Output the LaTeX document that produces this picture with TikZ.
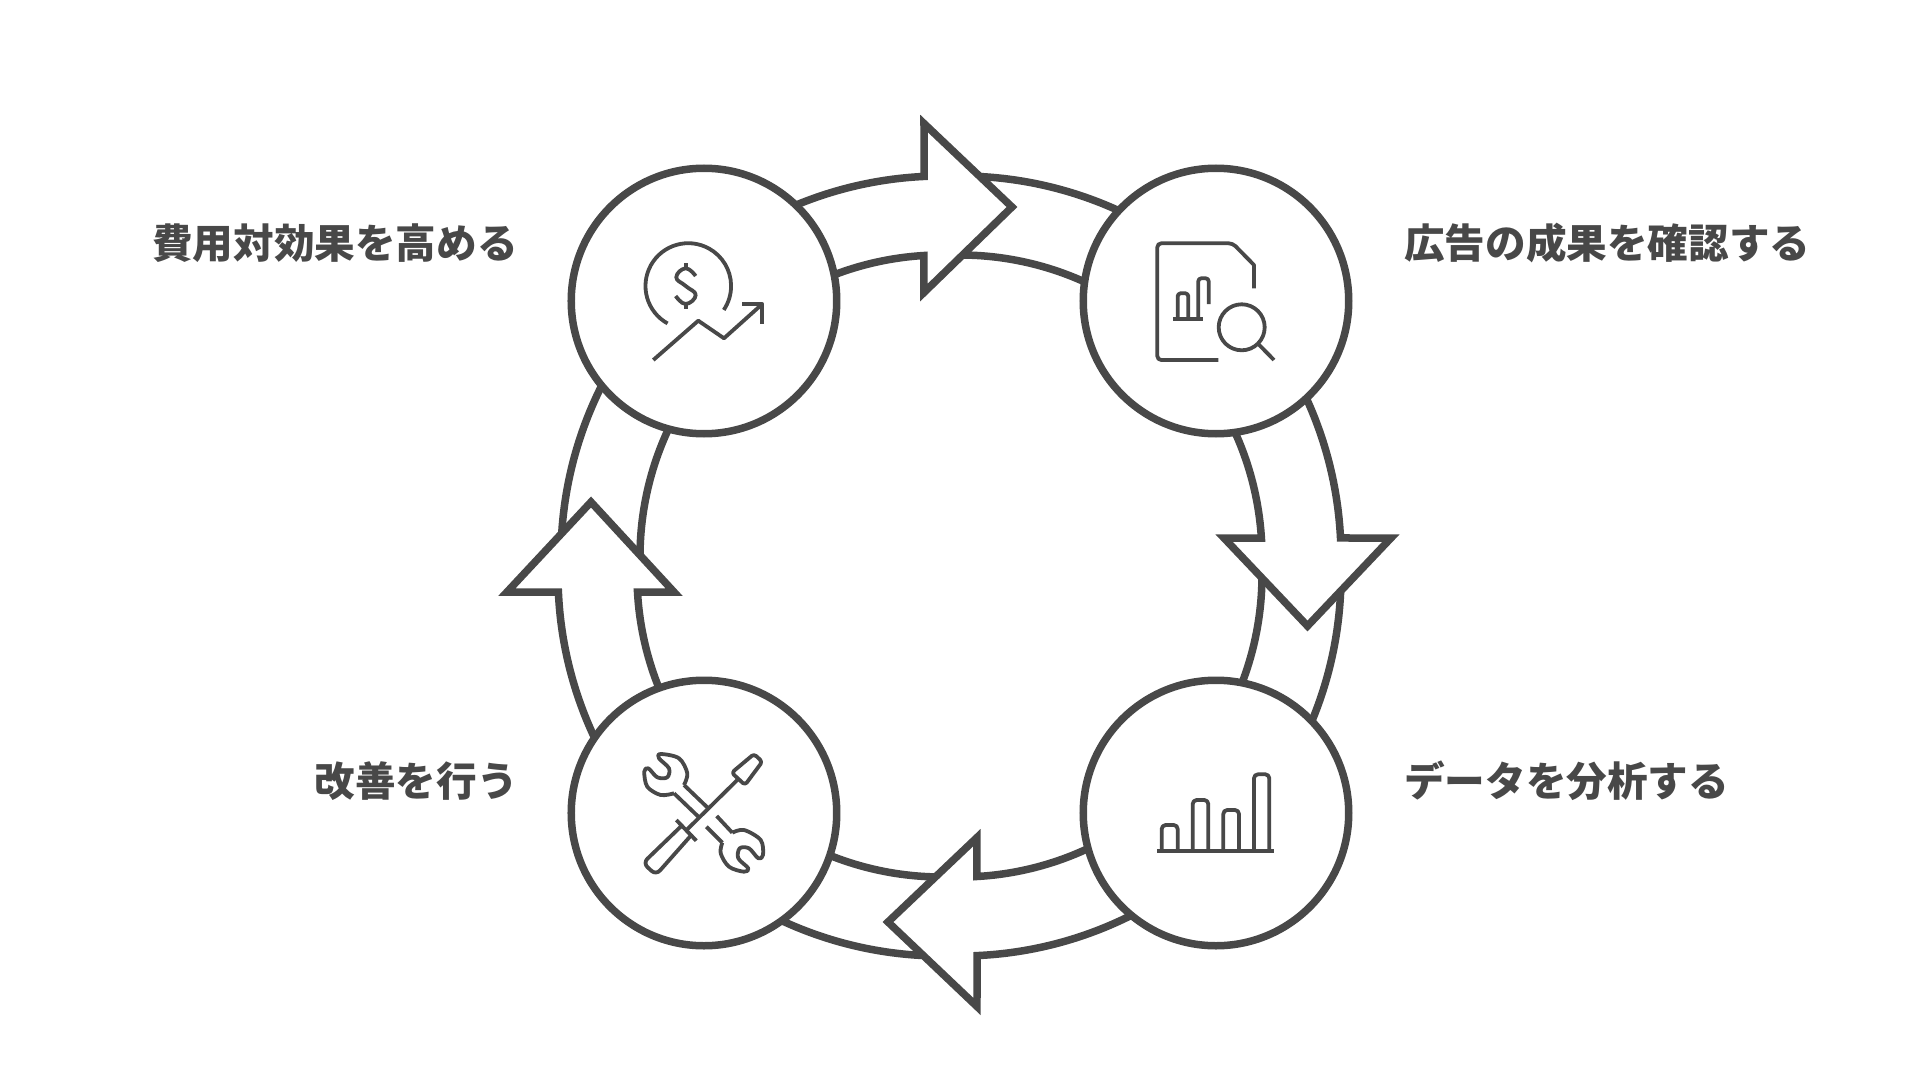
\documentclass[tikz,border=0pt]{standalone}
\usepackage{fontspec}
\usepackage{tikz}
\usetikzlibrary{positioning}
\newfontfamily\jpfont{Noto Sans CJK JP}
\definecolor{ink}{HTML}{484848}
\tikzset{
    ring/.style = {draw=ink, line width=7.5pt, fill=white},
    band/.style = {draw=ink, line width=7.5pt},
    main/.style = {draw=ink, circle, line width=7.5pt, fill=white, minimum size=265.5pt, inner sep=0pt},
    steplabel/.style = {text=ink, inner sep=0pt, font=\jpfont\bfseries\fontsize{40.6}{48}\selectfont},
    icon/.style = {draw=ink, line width=3.8pt, line join=round}
}
\begin{document}
\begin{tikzpicture}[x=1pt, y=1pt, node distance={512pt}]
    \useasboundingbox (-960,-523) rectangle (960,557);
    % pieces behind the arrow heads
    \foreach \cx/\cy/\sa/\ea in {0/0/92/60, 0/-18/2/-30, -18/-18/-88/-120, -18/0/182/150} {
        \draw[band] ([shift={(\cx,\cy)}]\sa:381) arc[start angle=\sa, end angle=\ea, radius=381];
        \draw[band] ([shift={(\cx,\cy)}]\sa:302) arc[start angle=\sa, end angle=\ea, radius=302];
    }
    % arrows
    \draw[ring] ([shift={(-18,0)}]118:381) arc[start angle=118, end angle=92.7, radius=381]
        -- (-36,433.5) -- (52,350) -- (-36,264.5) -- (-36,301.5)
        arc[start angle=93.4, end angle=118, radius=302] -- cycle;
    \draw[ring] (28:381) arc[start angle=28, end angle=2.86, radius=381]
        -- (431,19) -- (347.5,-69) -- (264,19) -- (301.4,19)
        arc[start angle=3.62, end angle=28, radius=302] -- cycle;
    \draw[ring] ([shift={(0,-18)}]-60:381) arc[start angle=-60, end angle=-87.44, radius=381]
        -- (17,-449.5) -- (-72,-365) -- (17,-280.5) -- (17,-319.5)
        arc[start angle=-86.77, end angle=-60, radius=302] -- cycle;
    \draw[ring] ([shift={(-21,-18)}]210:381) arc[start angle=210, end angle=182.56, radius=381]
        -- (-453,-35) -- (-369,55) -- (-286,-35) -- (-322.5,-35)
        arc[start angle=183.23, end angle=210, radius=302] -- cycle;
    % circles
    \node[main] (1) at (256,256) {};
    \node[main, below of=1] (2) {};
    \node[main, left of=2] (3) {};
    \node[main, above of=3] (4) {};
    % labels
    \node[steplabel, right=51.5pt of 1, yshift=58pt] (l1) {広告の成果を確認する};
    \node[steplabel, right=51.5pt of 2, yshift=32pt] (l2) {データを分析する};
    \node[steplabel, left=49.5pt of 3, yshift=32pt] (l3) {改善を行う};
    \node[steplabel, left=49.5pt of 4, yshift=58pt] (l4) {費用対効果を高める};
    % report with magnifier
    \begin{scope}[shift={(1.center)}]
        \draw[icon, rounded corners=4pt] (2.3,-59) -- (-58.7,-59) -- (-58.7,57.7) -- (16.7,57.7) [sharp corners] -- (38,36) -- (38,12.7);
        \draw[icon] (-42.7,-18.3) -- (-12.7,-18.3);
        \draw[icon, rounded corners=3pt] (-38.3,-18.3) -- (-38.3,7.7) -- (-27.7,7.7) -- (-27.7,-18.3);
        \draw[icon, rounded corners=3pt] (-17.7,-18.3) -- (-17.7,22.7) -- (-7.3,22.7) -- (-7.3,-3);
        \draw[icon] (25.7,-26.3) circle[radius=23];
        \draw[icon] (42.3,-43) -- (58,-59);
    \end{scope}
    % bars
    \begin{scope}[shift={(2.center)}]
        \draw[icon] (-58.7,-38) -- (58,-38);
        \foreach \xa/\xb/\top in {-54.3/-38.3/-12, -23.3/-7.7/13, 7.3/23/3, 38/53.3/38.7} {
            \draw[icon, rounded corners=4pt] (\xa,-38) -- (\xa,\top) -- (\xb,\top) -- (\xb,-38);
        }
    \end{scope}
    % wrench and screwdriver
    \begin{scope}[shift={(3.center)}]
        \draw[icon, rounded corners=3pt] (50,59) -- (58.3,51.3) -- (41,28) -- (27.7,40.3) -- cycle;
        \draw[icon] (33.3,33) -- (-16.7,-16.3);
        \draw[icon] (-27.7,-7) -- (-7.7,-27.7);
        \draw[icon, rounded corners=6pt] (-22.3,-12.7) -- (-61,-50) -- (-48,-62) -- (-11.7,-21);
        \draw[icon] (-20,28) -- (4.3,4.7);
        \draw[icon] (-30,19.7) -- (-5,-4.3);
        \draw[icon] (12.7,-3) -- (28.3,-19.7);
        \draw[icon] (2.3,-13.7) -- (18.3,-29.7);
        \draw[icon] plot[smooth, tension=.55] coordinates {(-20,28) (-16.7,39.7) (-25,54.7) (-43.3,59) (-45,54.7) (-35,44.7) (-36.7,35.7) (-46.7,35.7) (-55.7,44.7) (-59.7,41.3) (-56.7,26.3) (-43.3,18) (-30,19.7)};
        \draw[icon] plot[smooth, tension=.55] coordinates {(28.3,-19.7) (40,-17) (56.7,-27) (59,-42) (54.3,-45.3) (45,-35.3) (35.7,-35.3) (34.3,-45.3) (44.3,-55.3) (40,-58.7) (25,-53.7) (16.7,-40.3) (18.3,-29.7)};
    \end{scope}
    % coin and trend line
    \begin{scope}[shift={(4.center)}]
        \draw[icon] (-15.7,15) ++(241:42.8) arc[start angle=241, end angle=-34, radius=42.8];
        \draw[icon] plot[smooth, tension=.8] coordinates {(-8.3,25) (-18.3,32.7) (-27.7,23.7) (-18.3,15) (-8.3,6) (-18.3,-3) (-28.3,5)};
        \draw[icon] (-18.3,37.7) -- (-18.3,32.7);
        \draw[icon] (-18.3,-3) -- (-18.3,-8);
        \draw[icon] (-50.7,-59) -- (-5.7,-19.7) -- (20,-37.3) -- (58.3,-3);
        \draw[icon] (38.3,-3) -- (58.3,-3) -- (58.3,-23);
    \end{scope}
\end{tikzpicture}
\end{document}
